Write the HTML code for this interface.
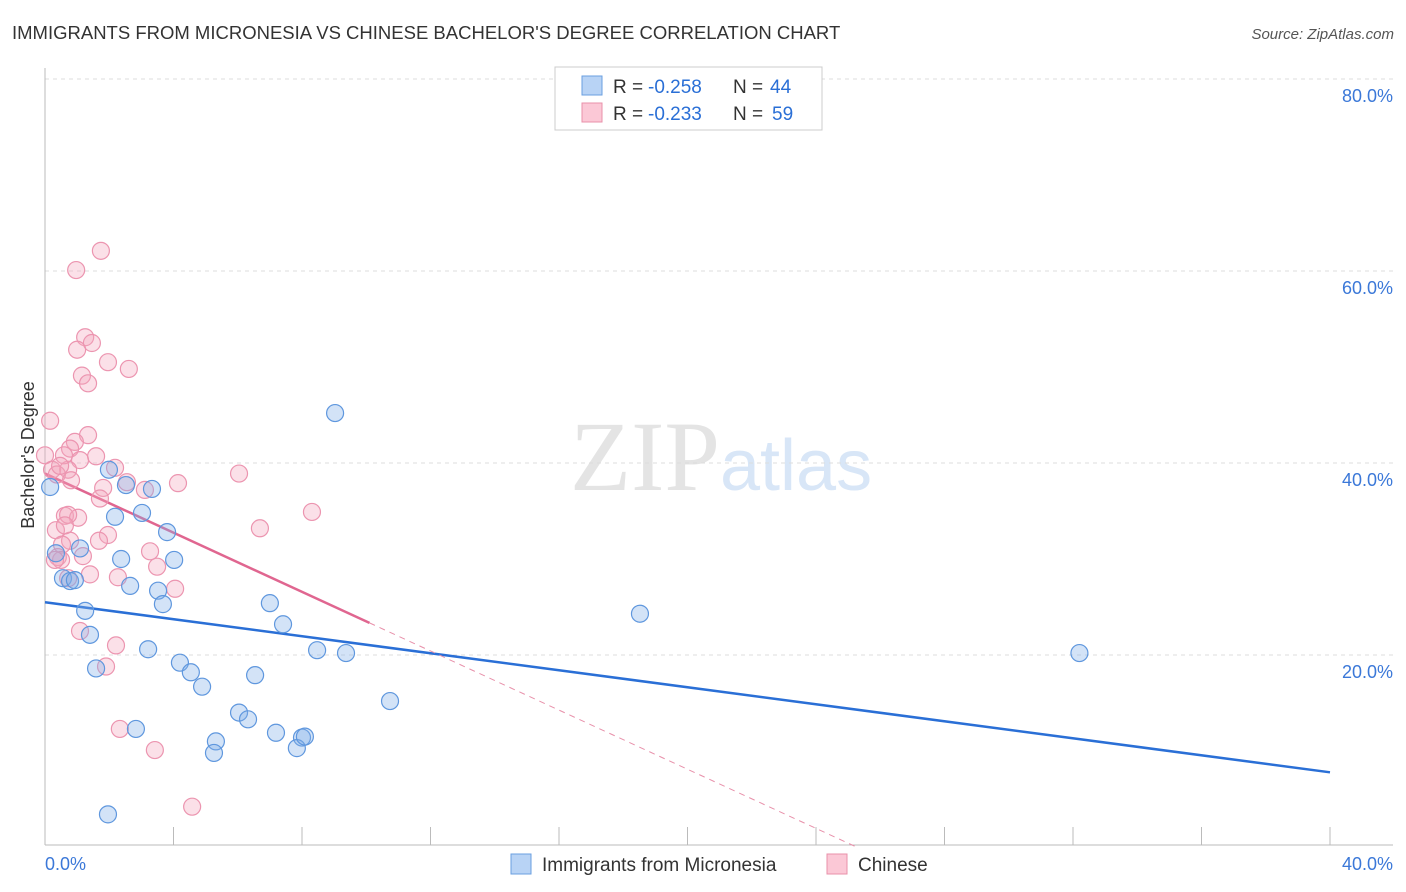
<!DOCTYPE html>
<html><head><meta charset="utf-8"><style>
body{margin:0;background:#fff;font-family:"Liberation Sans",sans-serif;}
svg{display:block}
</style></head><body>
<svg id="chart" width="1406" height="892">
<text x="12" y="39" font-size="18.5" fill="#333">IMMIGRANTS FROM MICRONESIA VS CHINESE BACHELOR'S DEGREE CORRELATION CHART</text>
<text x="1394" y="39" font-size="15" fill="#555" font-style="italic" text-anchor="end">Source: ZipAtlas.com</text>
<text x="720" y="490" font-size="100" fill="#e4e4e4" font-family="Liberation Serif" text-anchor="end">ZIP</text>
<text x="720" y="490" font-size="72" fill="#d8e6f7">atlas</text>
<g id="grid"></g><g id="axes"></g><g id="trends"></g><g id="pts"></g>
<text transform="translate(34,455) rotate(-90)" font-size="18" fill="#333" text-anchor="middle">Bachelor's Degree</text>
<g>
<rect x="555" y="67" width="267" height="63" fill="#fff" stroke="#ccc"/>
<rect x="582" y="76" width="20" height="19" fill="#b8d3f5" stroke="#6a9fe0"/>
<rect x="582" y="103" width="20" height="19" fill="#fbc8d6" stroke="#e890aa"/>
<text x="613" y="93" font-size="19" fill="#333">R =</text>
<text x="648" y="93" font-size="19" fill="#2a6fd6">-0.258</text>
<text x="733" y="93" font-size="19" fill="#333">N =</text>
<text x="770" y="93" font-size="19" fill="#2a6fd6">44</text>
<text x="613" y="120" font-size="19" fill="#333">R =</text>
<text x="648" y="120" font-size="19" fill="#2a6fd6">-0.233</text>
<text x="733" y="120" font-size="19" fill="#333">N =</text>
<text x="772" y="120" font-size="19" fill="#2a6fd6">59</text>
</g>
<g>
<rect x="511" y="854" width="20" height="20" fill="#b8d3f5" stroke="#6a9fe0"/>
<text x="542" y="871" font-size="19" fill="#333">Immigrants from Micronesia</text>
<rect x="827" y="854" width="20" height="20" fill="#fbc8d6" stroke="#e890aa"/>
<text x="858" y="871" font-size="19" fill="#333">Chinese</text>
</g>
</svg>
<script>
const blueX=[9.03,18.52,32.2,1.99,2.52,3.33,2.18,3.02,3.80,0.34,1.09,2.37,4.02,0.56,0.78,0.93,2.65,3.52,3.67,1.25,7.0,7.41,1.40,3.21,8.47,9.37,1.59,4.20,4.54,4.89,6.54,10.74,2.83,6.04,6.32,5.32,5.26,7.19,8.0,7.84,8.09,1.96,0.16];
const blueY=[45.2,24.3,20.2,39.3,37.7,37.3,34.4,34.8,32.8,30.6,31.1,30.0,29.9,28.0,27.7,27.8,27.2,26.7,25.3,24.6,25.4,23.2,22.1,20.6,20.5,20.2,18.6,19.2,18.2,16.7,17.9,15.2,12.3,14.0,13.3,11.0,9.8,11.9,11.4,10.3,11.5,3.4,37.5];
const pinkX=[1.74,0.97,1.25,1.46,1.00,1.96,2.61,1.15,1.34,0.16,1.34,0.93,0.78,1.59,1.09,0,0.72,2.18,0.22,0.37,2.55,0.81,3.11,4.14,6.04,1.81,1.71,8.31,0.62,1.03,0.72,6.69,0.34,1.96,1.68,0.78,0.53,3.27,1.18,0.40,0.50,3.49,1.40,2.27,4.05,0.72,1.09,2.21,1.90,2.33,3.42,4.58,0.62,0.31,0.59,0.47];
const pinkY=[62.1,60.1,53.1,52.5,51.8,50.5,49.8,49.1,48.3,44.4,42.9,42.2,41.5,40.7,40.3,40.8,39.3,39.5,39.3,38.8,38.0,38.2,37.2,37.9,38.9,37.4,36.3,34.9,34.5,34.3,34.6,33.2,33.0,32.5,31.9,31.9,31.5,30.8,30.3,30.2,29.9,29.2,28.4,28.1,26.9,28.0,22.5,21.0,18.8,12.3,10.1,4.2,33.5,29.9,40.8,39.7];
const blueTrend=[25.5,-0.443];
const pinkTrend=[38.9,-1.54];
const pinkSolidEnd=10.1;
const yTicks=[20,40,60,80];
const xTickLabels=["0.0%","40.0%"];
const NS="http://www.w3.org/2000/svg";
const X=v=>45+v/40*1285, Y=v=>847-v*9.6;
function mk(tag,attrs,parent){const e=document.createElementNS(NS,tag);for(const k in attrs)e.setAttribute(k,attrs[k]);parent.appendChild(e);return e;}
const grid=document.getElementById('grid'),axes=document.getElementById('axes'),tr=document.getElementById('trends'),pts=document.getElementById('pts');
yTicks.forEach(t=>{
 const l=mk('line',{x1:45,x2:1393,y1:Y(t),y2:Y(t),stroke:'#ddd','stroke-dasharray':'4,4'},grid);
 
 
 const tx=mk('text',{x:1393,y:Y(t)+23,'font-size':18,fill:'#3b78d8','text-anchor':'end'},grid);
 tx.textContent=t.toFixed(1)+'%';
 
 
});
const ya=mk('line',{x1:45,x2:45,y1:68,y2:845,stroke:'#bbb'},axes);


const xa=mk('line',{x1:45,x2:1393,y1:845,y2:845,stroke:'#bbb'},axes);


for(let i=1;i<=10;i++){const t=mk('line',{x1:X(i*4),x2:X(i*4),y1:827,y2:845,stroke:'#bbb'},axes);
 
 }
[[0,'start',45],[40,'end',1393]].forEach((d,i)=>{const t=mk('text',{x:d[2],y:870,'font-size':18,fill:'#3b78d8','text-anchor':d[1]},axes);t.textContent=xTickLabels[i];
 
 });
const bl=mk('line',{x1:X(0),y1:Y(blueTrend[0]),x2:X(40),y2:Y(blueTrend[0]+40*blueTrend[1]),stroke:'#2a6fd6','stroke-width':2.5},tr);


const pz=-pinkTrend[0]/pinkTrend[1];
const pd=mk('line',{x1:X(pinkSolidEnd),y1:Y(pinkTrend[0]+pinkSolidEnd*pinkTrend[1]),x2:X(pz),y2:Y(0),stroke:'#e890aa','stroke-width':1,'stroke-dasharray':'6,5'},tr);


const ps=mk('line',{x1:X(0),y1:Y(pinkTrend[0]),x2:X(pinkSolidEnd),y2:Y(pinkTrend[0]+pinkSolidEnd*pinkTrend[1]),stroke:'#e06690','stroke-width':2.5},tr);


pinkX.forEach((x,i)=>{const c=mk('circle',{cx:X(x),cy:Y(pinkY[i]),r:8.5,fill:'rgba(244,165,190,0.35)',stroke:'#ec95b0','stroke-width':1.2},pts);
 
 });
blueX.forEach((x,i)=>{const c=mk('circle',{cx:X(x),cy:Y(blueY[i]),r:8.5,fill:'rgba(130,175,232,0.35)',stroke:'#5f97de','stroke-width':1.2},pts);
 
 });
</script>
</body></html>
